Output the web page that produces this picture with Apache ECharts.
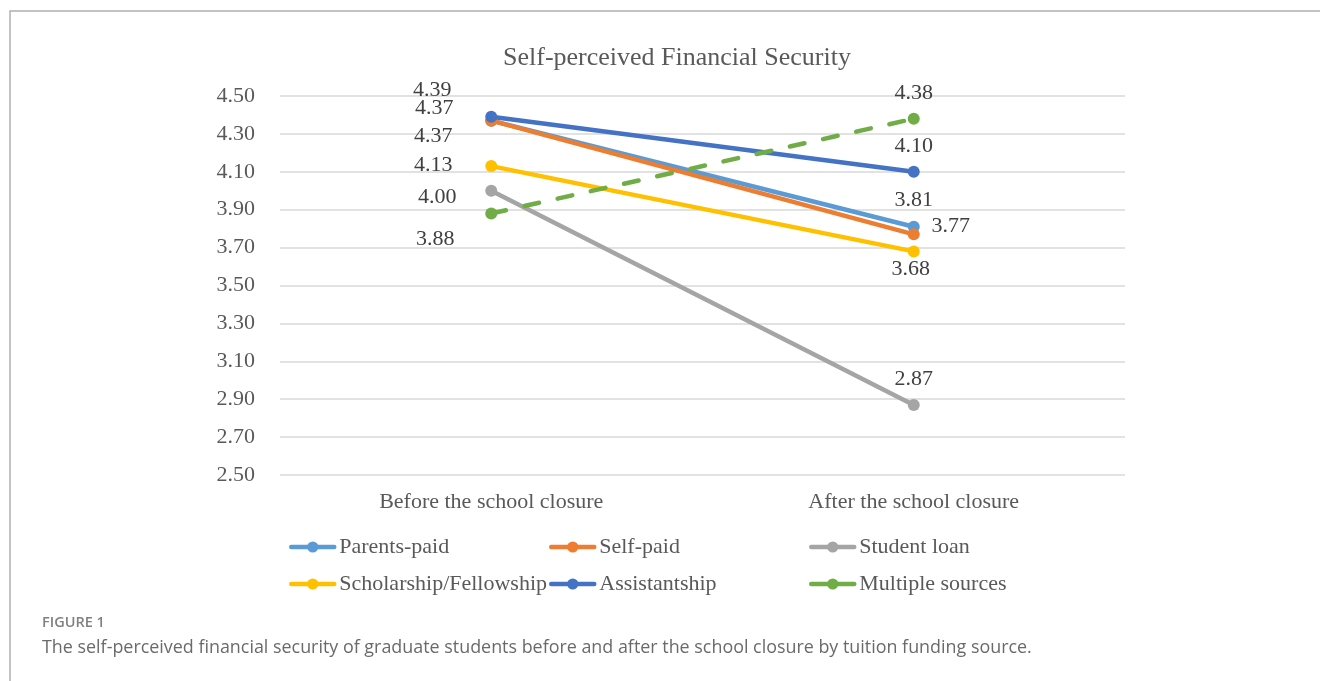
<!DOCTYPE html>
<html>
<head>
<meta charset="utf-8">
<script src="https://cdn.jsdelivr.net/npm/echarts@6/dist/echarts.min.js"></script>
<style>
  html, body { margin: 0; padding: 0; background: #ffffff; }
  #chart { width: 1320px; height: 681px; }
</style>
</head>
<body>
<div id="chart"></div>
<script>
// ---- data ----
const categories = ['Before the school closure', 'After the school closure'];
const seriesNames = ['Parents-paid', 'Self-paid', 'Student loan', 'Scholarship/Fellowship', 'Assistantship', 'Multiple sources'];
const parentsPaid = [4.37, 3.81];
const selfPaid = [4.37, 3.77];
const studentLoan = [4.00, 2.87];
const scholarship = [4.13, 3.68];
const assistantship = [4.39, 4.10];
const multipleSources = [3.88, 4.38];
const yTicks = { min: 2.5, max: 4.5, step: 0.2 };

// ---- styling (label offsets per point, colors) ----
const colors = ['#5B9BD5', '#ED7D31', '#A5A5A5', '#FFC000', '#4472C4', '#70AD47'];
const labelOffsets = [
  [[-57, -12], [0, -27]],
  [[-58, 16], [37, -8]],
  [[-54, 6], [0, -26]],
  [[-58, -1], [-3, 18]],
  [[-59, -27], [0, -26]],
  [[-56, 26], [0, -26]]
];
const allValues = [parentsPaid, selfPaid, studentLoan, scholarship, assistantship, multipleSources];

const serif = '"Liberation Serif", "Times New Roman", serif';
const series = seriesNames.map((name, i) => ({
  name,
  type: 'line',
  symbol: 'circle',
  symbolSize: 12,
  z: 2 + i,
  itemStyle: { color: colors[i] },
  lineStyle: {
    color: colors[i],
    width: 4.5,
    cap: 'round',
    type: i === 5 ? [15, 19] : 'solid'
  },
  data: allValues[i].map((v, j) => ({
    value: v,
    label: {
      show: true,
      position: 'inside',
      offset: labelOffsets[i][j],
      formatter: (p) => Number(p.value).toFixed(2),
      color: '#404040',
      fontFamily: serif,
      fontSize: 22
    }
  }))
}));

const legendText = { color: '#595959', fontFamily: serif, fontSize: 22 };
const legendCols = [
  { left: 289, data: [seriesNames[0], seriesNames[3]] },
  { left: 549, data: [seriesNames[1], seriesNames[4]] },
  { left: 809, data: [seriesNames[2], seriesNames[5]] }
];

const chart = echarts.init(document.getElementById('chart'), null, { renderer: 'canvas' });
chart.setOption({
  animation: false,
  backgroundColor: '#ffffff',
  title: {
    text: 'Self-perceived Financial Security',
    left: 498,
    top: 40,
    textStyle: { color: '#595959', fontFamily: serif, fontSize: 26, fontWeight: 'normal' }
  },
  legend: legendCols.map(c => ({
    orient: 'vertical',
    left: c.left,
    top: 536,
    itemWidth: 43,
    itemHeight: 14,
    itemGap: 15,
    padding: 0,
    data: c.data,
    lineStyle: { width: 4.5, type: 'solid', cap: 'round' },
    textStyle: legendText
  })),
  grid: { left: 280, right: 195, top: 96, bottom: 206, containLabel: false },
  xAxis: {
    type: 'category',
    data: categories,
    boundaryGap: true,
    axisLine: { show: false },
    axisTick: { show: false },
    axisLabel: { color: '#595959', fontFamily: serif, fontSize: 22, margin: 16 }
  },
  yAxis: {
    type: 'value',
    min: yTicks.min,
    max: yTicks.max,
    interval: yTicks.step,
    axisLine: { show: false },
    axisTick: { show: false },
    axisLabel: {
      color: '#595959', fontFamily: serif, fontSize: 22, margin: 25,
      formatter: (v) => Number(v).toFixed(2)
    },
    splitLine: { lineStyle: { color: '#d9d9d9', width: 1.5 } }
  },
  series,
  graphic: [
    {
      type: 'rect',
      shape: { x: 10, y: 11, width: 1500, height: 900 },
      style: { fill: 'none', stroke: '#b0b0b0', lineWidth: 1.5 },
      silent: true
    },
    {
      type: 'text',
      left: 42,
      top: 615,
      style: { text: 'FIGURE 1', fill: '#808080', font: '600 14.5px "Open Sans", sans-serif' }
    },
    {
      type: 'text',
      left: 42,
      top: 639,
      style: {
        text: 'The self-perceived financial security of graduate students before and after the school closure by tuition funding source.',
        fill: '#6a6a6a',
        font: '17.9px "Open Sans", sans-serif'
      }
    }
  ]
});
</script>
</body>
</html>
